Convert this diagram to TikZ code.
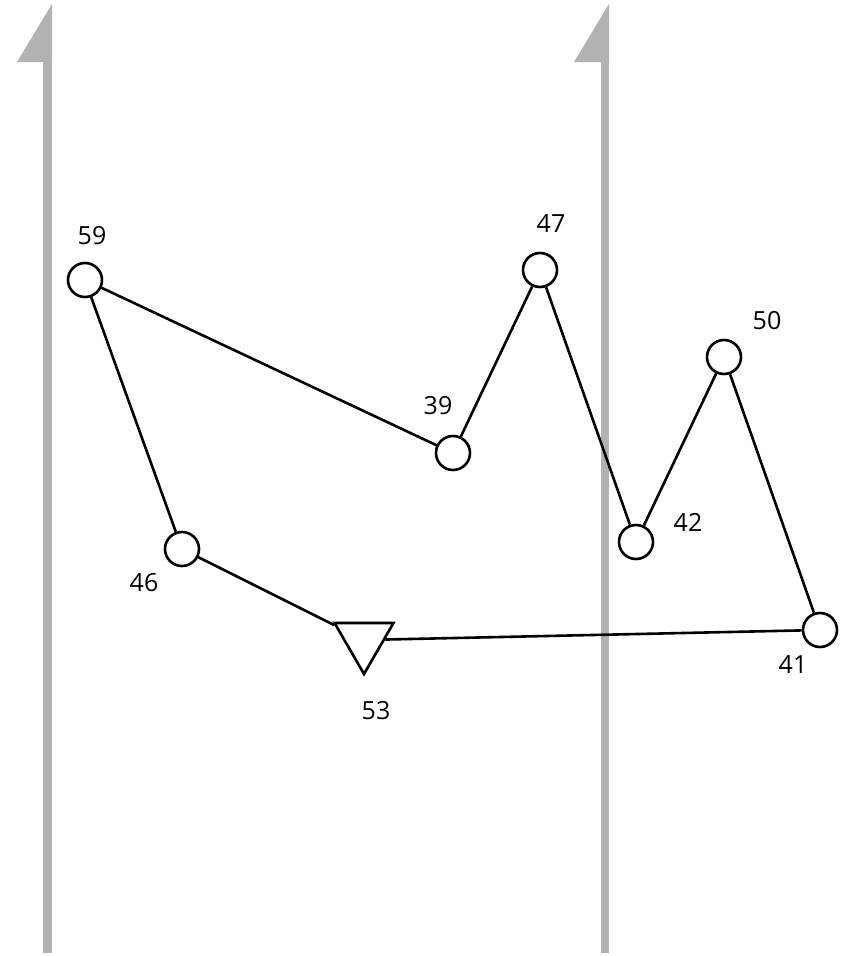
\documentclass[tikz,border=0pt]{standalone}
\usepackage{fontspec}
\setmainfont{Open Sans}
\usepackage{tikz}
\usetikzlibrary{shapes.geometric, positioning}
\definecolor{axisgray}{RGB}{178,178,178}

\begin{document}
\begin{tikzpicture}[
    x=1pt, y=-1pt,
    vertex/.style={circle, draw=black, line width=2.6pt, minimum size=34pt, inner sep=0pt, fill=white},
    tri/.style={regular polygon, regular polygon sides=3, shape border rotate=180, draw=black, line width=2.6pt, minimum size=68pt, inner sep=0pt, fill=white},
    lbl/.style={font=\fontsize{25}{25}\selectfont, inner sep=0pt},
    edge/.style={line width=2.6pt},
    axis/.style={draw=axisgray, line width=8.5pt},
]
\useasboundingbox (0,0) rectangle (854,956);

% Axes
\coordinate (leftbot) at (47.5,953);
\coordinate (lefttop) at (47.5,60);
\coordinate (rightbot) at (605,953);
\coordinate (righttop) at (605,60);
\draw[axis] (leftbot) -- (lefttop);
\draw[axis] (rightbot) -- (righttop);
\fill[axisgray] (52,4) -- (52,62) -- (17,62) -- cycle;
\fill[axisgray] (609,4) -- (609,62) -- (574,62) -- cycle;

% Positions
\coordinate (c59) at (85,280);
\coordinate (c39) at (453,453);
\coordinate (c47) at (540,270);
\coordinate (c42) at (636,542);
\coordinate (c50) at (724,357);
\coordinate (c41) at (820,630);
\coordinate (c46) at (182,549);
\coordinate (c53) at (364,640);

% Vertices
\node[vertex] (n59) at (c59) {};
\node[vertex] (n39) at (c39) {};
\node[vertex] (n47) at (c47) {};
\node[vertex] (n42) at (c42) {};
\node[vertex] (n50) at (c50) {};
\node[vertex] (n41) at (c41) {};
\node[vertex] (n46) at (c46) {};
\node[tri] (n53) at (c53) {};

% Labels
\node[lbl] (l59) at (92,236) {59};
\node[lbl] (l39) at (438,406) {39};
\node[lbl] (l47) at (551,224) {47};
\node[lbl] (l42) at (688,522) {42};
\node[lbl] (l50) at (767,321) {50};
\node[lbl] (l41) at (793,665) {41};
\node[lbl] (l46) at (144,583) {46};
\node[lbl] (l53) at (376,711) {53};

% Connections
\draw[edge] (n59) -- (n39);
\draw[edge] (n39) -- (n47);
\draw[edge] (n47) -- (n42);
\draw[edge] (n42) -- (n50);
\draw[edge] (n50) -- (n41);
\draw[edge] (n41) -- (n53);
\draw[edge] (n53) -- (n46);
\draw[edge] (n46) -- (n59);

\end{tikzpicture}
\end{document}
